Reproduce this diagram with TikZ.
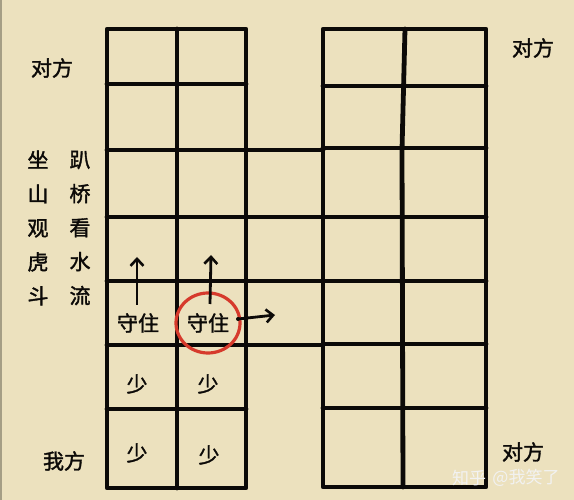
\documentclass[tikz,border=0pt]{standalone}
\usepackage{fontspec}
\setmainfont{Noto Sans CJK SC}
\newfontfamily\heavy[FakeBold=1.6]{Noto Sans CJK SC}
\usetikzlibrary{arrows.meta}
\definecolor{paper}{RGB}{236,225,190}
\definecolor{ink}{RGB}{12,10,8}
\definecolor{redc}{RGB}{214,58,44}
\tikzset{
  grid/.style={draw=ink,line width=4.8pt,line cap=round,line join=round},
  lbl/.style={text=ink,inner sep=0pt,font=\heavy\fontsize{21}{21}\selectfont},
  vlbl/.style={text=ink,inner sep=0pt,align=center,font=\heavy\fontsize{21}{34}\selectfont},
  arr/.style={draw=ink,line width=2.8pt,-{Straight Barb[length=7pt,width=13pt,line width=2.6pt]}},
  wm/.style={text=white!90!gray,inner sep=0pt,font=\fontsize{17}{17}\selectfont}
}
\begin{document}
\begin{tikzpicture}[x=1pt,y=-1pt]
\useasboundingbox (0,0) rectangle (574,500);
\fill[paper] (0,0) rectangle (574,500);
\draw[paper!70!black,line width=1.5pt] (1,0) -- (1,500);
% left board
\draw[grid] (107,29) rectangle (246,488);
\draw[grid] (177,29) -- (177,488);
\foreach \y in {84,150,217,281,345,409} \draw[grid] (107,\y) -- (246,\y);
% right board
\draw[grid] (323,29) rectangle (486,487);
\draw[grid] (405,29) -- (402,150) -- (403,487);
\foreach \y in {86,148,217,281,344,408} \draw[grid] (323,\y) -- (486,\y);
% middle connections
\foreach \y in {150,217,281,345} \draw[grid] (246,\y) -- (323,\y);
% labels
\node[lbl] (tl) at (52,68) {对方};
\node[lbl] (tr) at (533,48) {对方};
\node[lbl] (br) at (523,452) {对方};
\node[lbl] (me) at (64,461) {我方};
\node[vlbl] (c1) at (38,228) {坐\\山\\观\\虎\\斗};
\node[vlbl] (c2) at (80,228) {趴\\桥\\看\\水\\流};
\node[lbl] (s1) at (138,323) {守住};
\node[lbl] (s2) at (208,323) {守住};
\node[lbl] (m1) at (137,384) {少};
\node[lbl] (m2) at (208,384) {少};
\node[lbl] (m3) at (137,453) {少};
\node[lbl] (m4) at (209,455) {少};
% red circle
\draw[redc,line width=3.2pt] (208,323) ellipse (32pt and 30pt);
% arrows
\coordinate (a1s) at (137,305); \coordinate (a1e) at (137,257);
\coordinate (a2s) at (210,304); \coordinate (a2e) at (211,255);
\coordinate (a3s) at (238,319); \coordinate (a3e) at (275,315);
\draw[arr] (a1s) -- (a1e);
\draw[arr] (a2s) -- (a2e);
\fill[ink] (a3s) circle (2pt);
\draw[arr] (a3s) -- (a3e);
% watermark
\node[wm] (w1) at (469,478) {知乎};
\node[wm] (w2) at (526,478) {@我笑了};
\end{tikzpicture}
\end{document}
